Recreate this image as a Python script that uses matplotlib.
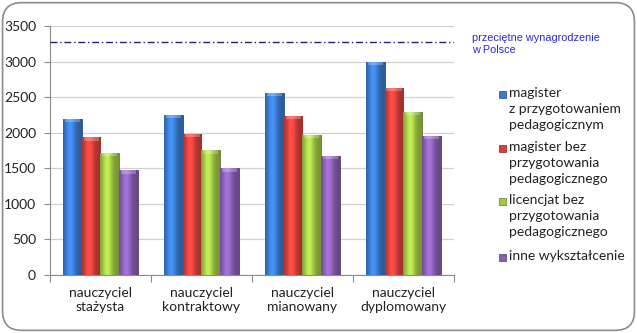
import numpy as np
import matplotlib
matplotlib.use("Agg")
import matplotlib.pyplot as plt
from matplotlib.patches import FancyBboxPatch
from matplotlib.colors import to_rgb

categories = ["nauczyciel\nstażysta", "nauczyciel\nkontraktowy",
              "nauczyciel\nmianowany", "nauczyciel\ndyplomowany"]
series_names = ["magister\nz przygotowaniem\npedagogicznym",
                "magister bez\nprzygotowania\npedagogicznego",
                "licencjat bez\nprzygotowania\npedagogicznego",
                "inne wykształcenie"]
magister_z = [2190, 2255, 2555, 3000]
magister_bez = [1935, 1980, 2235, 2630]
licencjat_bez = [1715, 1752, 1968, 2290]
inne = [1472, 1500, 1673, 1954]
series_values = [magister_z, magister_bez, licencjat_bez, inne]
average_pay = 3275
average_label_lines = ["przeciętne wynagrodzenie", "w Polsce"]
yticks = [0, 500, 1000, 1500, 2000, 2500, 3000, 3500]

colors = ["#3a7bd0", "#d8403b", "#a2c846", "#8a60b6"]

plt.rcParams['font.family'] = ['Lato', 'DejaVu Sans']

fig = plt.figure(figsize=(6.37, 3.33), dpi=100)
fig.patch.set_facecolor("white")
border = FancyBboxPatch((0.004, 0.008), 0.992, 0.984,
                        boxstyle="round,pad=0,rounding_size=0.03",
                        transform=fig.transFigure, facecolor="white",
                        edgecolor="#8c8c8c", linewidth=1.2, zorder=-10,
                        mutation_aspect=637/333)
fig.patches.append(border)

ax = fig.add_axes([0.0785, 0.174, 0.634, 0.748])
ax.set_xlim(-0.5, len(categories) - 0.5)
ax.set_ylim(0, 3500)
ax.set_yticks(yticks)
ax.set_yticklabels([str(t) for t in yticks], fontsize=10, color="#222222")
ax.yaxis.grid(True, color="#d0d0d0", linewidth=0.9)
ax.set_axisbelow(True)
for s in ["top", "right"]:
    ax.spines[s].set_visible(False)
for s in ["left", "bottom"]:
    ax.spines[s].set_color("#8a8a8a")
ax.tick_params(axis="y", length=4, color="#8a8a8a", pad=6)

# category tick marks at boundaries
ax.set_xticks(np.arange(-0.5, len(categories)), minor=False)
ax.set_xticklabels([""] * (len(categories) + 1))
ax.tick_params(axis="x", length=5, color="#8a8a8a")
for i, c in enumerate(categories):
    ax.text(i, -165, c, ha="center", va="top", fontsize=10,
            color="#222222", linespacing=1.22)

bw = 0.186
x = np.arange(len(categories))
for k, (vals, col) in enumerate(zip(series_values, colors)):
    offs = (k - 1.5) * bw
    bars = ax.bar(x + offs, vals, width=bw, color=col,
                  edgecolor=tuple(0.6 * c for c in to_rgb(col)),
                  linewidth=0.6, zorder=3)
    base = np.array(to_rgb(col))
    t = np.linspace(0, 1, 40)
    shade = 0.75 + 0.45 * np.exp(-((t - 0.38) / 0.28) ** 2)
    grad = np.clip(base[None, :] * shade[:, None], 0, 1)[None, :, :]
    for b in bars:
        xx, w, h = b.get_x(), b.get_width(), b.get_height()
        im = ax.imshow(grad, extent=(xx, xx + w, 0, h), aspect="auto",
                       zorder=3.5, interpolation="bilinear")
        im.set_clip_path(b)
        # top cap highlight
        ax.fill_between([xx + w * 0.1, xx + w * 0.9], h - 45, h,
                        color="white", alpha=0.25, zorder=4, linewidth=0)

ax.axhline(average_pay, color="#22227a", linestyle=(0, (5, 2, 1, 2)),
           linewidth=1.0, zorder=5)

for j, line in enumerate(average_label_lines):
    fig.text(472 / 637, 1 - (33 + 12 * j) / 333, line, fontsize=7.8,
             family=["Liberation Sans", "DejaVu Sans"], color="#2b2bd0",
             ha="left", va="top")

# legend
y_starts = [95, 149, 202, 258]
for name, col, y0 in zip(series_names, colors, y_starts):
    fig.patches.append(matplotlib.patches.Rectangle(
        (499 / 637, 1 - (y0 + 3) / 333), 7 / 637, 7 / 333,
        transform=fig.transFigure, facecolor=col,
        edgecolor=tuple(0.6 * c for c in to_rgb(col)), linewidth=0.5))
    fig.text(509 / 637, 1 - (y0 - 8) / 333, name, fontsize=10,
             color="#222222", ha="left", va="top", linespacing=1.4)

fig.savefig("out.png", dpi=100)
